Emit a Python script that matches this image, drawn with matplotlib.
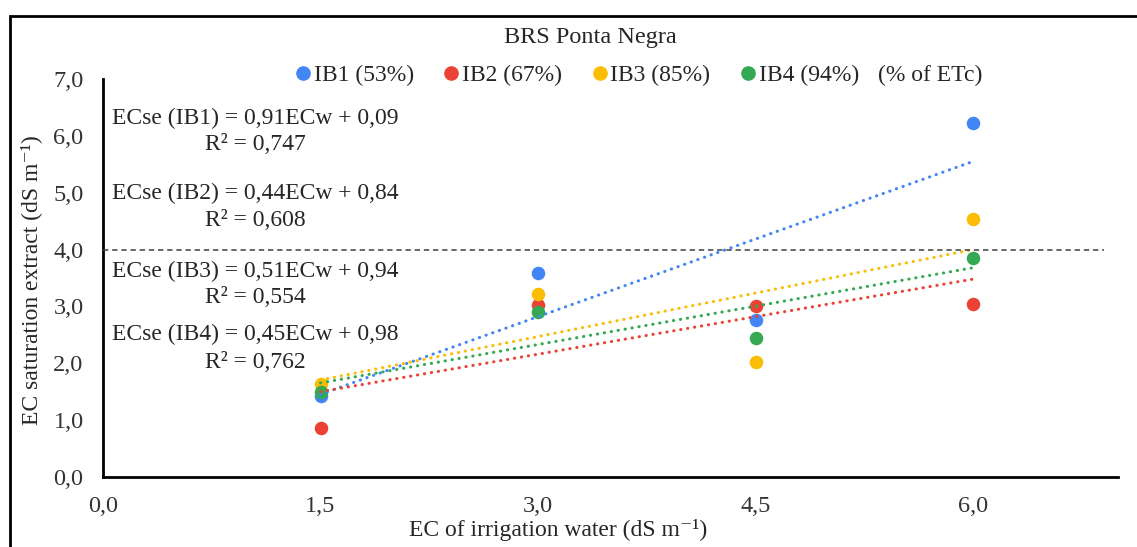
import numpy as np
import matplotlib
matplotlib.use("Agg")
import matplotlib.pyplot as plt
from matplotlib.patches import Rectangle
from matplotlib.lines import Line2D

plt.rcParams['font.family'] = ['Liberation Serif', 'DejaVu Serif']

# data
ecw = [1.5, 3.0, 4.5, 6.0]
ib1 = [1.42, 3.59, 2.77, 6.23]
ib2 = [0.87, 3.03, 3.01, 3.04]
ib3 = [1.63, 3.22, 2.03, 4.53]
ib4 = [1.49, 2.90, 2.45, 3.86]

names = ["IB1 (53%)", "IB2 (67%)", "IB3 (85%)", "IB4 (94%)"]
colors = ["#4285F4", "#EA4335", "#FBBC04", "#34A853"]
slopes = [0.91, 0.44, 0.51, 0.45]
intercepts = [0.09, 0.84, 0.94, 0.98]
r2 = ["0,747", "0,608", "0,554", "0,762"]
eq_text = ["0,91ECw + 0,09", "0,44ECw + 0,84", "0,51ECw + 0,94", "0,45ECw + 0,98"]
eq_y = [6.30, 4.99, 3.62, 2.50]   # label positions in data units
r2_y = [5.84, 4.52, 3.15, 2.02]

xticks = [0.0, 1.5, 3.0, 4.5, 6.0]
yticks = [0, 1, 2, 3, 4, 5, 6, 7]
limit = 4.0

txt = "#262626"

fig = plt.figure(figsize=(11.37, 5.47), dpi=100)
ax = fig.add_axes([103/1137, 1 - 477/547, (1118 - 103)/1137, (477 - 79)/547])

# frame round the chart
fig.patches.append(Rectangle((10/1137, -0.5), 2, 1.5 - 16/547, transform=fig.transFigure,
                             fill=False, edgecolor="black", linewidth=2))

series = [ib1, ib2, ib3, ib4]
for ys, c in zip(series, colors):
    ax.scatter(ecw, ys, s=95, color=c, zorder=3, linewidths=0)

# trendlines
xx = np.array([ecw[0], ecw[-1]])
for a, b, c in zip(slopes, intercepts, colors):
    ax.plot(xx, a*xx + b, color=c, lw=2.2, linestyle=(0, (0.1, 2.2)),
            dash_capstyle='round', zorder=4)

# salinity limit
ax.plot([0, 6.9], [limit, limit], color="#404040", lw=1.1, linestyle=(0, (3.5, 2.5)), zorder=5)

for i in range(4):
    ax.text(1.05, eq_y[i], "ECse (IB%d) = %s" % (i+1, eq_text[i]),
            ha="center", va="center", fontsize=17, color=txt)
    ax.text(1.05, r2_y[i], "R² = %s" % r2[i],
            ha="center", va="center", fontsize=17, color=txt)

ax.set_xlim(0, 7)
ax.set_ylim(0, 7)
ax.set_xticks(xticks)
ax.set_xticklabels([("%.1f" % v).replace(".", ",") for v in xticks])
ax.set_yticks(yticks)
ax.set_yticklabels([("%.1f" % v).replace(".", ",") for v in yticks])
ax.tick_params(axis="both", length=0, labelsize=17.5, labelcolor="#333333")
ax.tick_params(axis="y", pad=14)
ax.tick_params(axis="x", pad=14)
for s in ["top", "right"]:
    ax.spines[s].set_visible(False)
for s in ["left", "bottom"]:
    ax.spines[s].set_linewidth(2)
    ax.spines[s].set_color("black")

fig.text(590/1137, 1 - 38/547, "BRS Ponta Negra", ha="center", va="center", fontsize=17.5, color=txt)
fig.text(558/1137, 1 - 530/547, "EC of irrigation water (dS m⁻¹)", ha="center", va="center",
         fontsize=17, color=txt)
fig.text(31/1137, 1 - 280/547, "EC saturation extract (dS m⁻¹)", ha="center", va="center",
         fontsize=17, color=txt, rotation=90)

handles = [Line2D([], [], marker="o", ls="", color=c, markersize=9.5) for c in colors]
leg = ax.legend(handles, names, ncol=4, loc="center left", bbox_to_anchor=(0.19, 1.01),
                frameon=False, fontsize=17, handlelength=0.6, handletextpad=0.15, columnspacing=1.3,
                borderaxespad=0, borderpad=0)
for t in leg.get_texts():
    t.set_color(txt)
fig.text(878/1137, 1 - 75/547, "(% of ETc)", ha="left", va="center", fontsize=17, color=txt)

fig.savefig("out.png", dpi=100)
